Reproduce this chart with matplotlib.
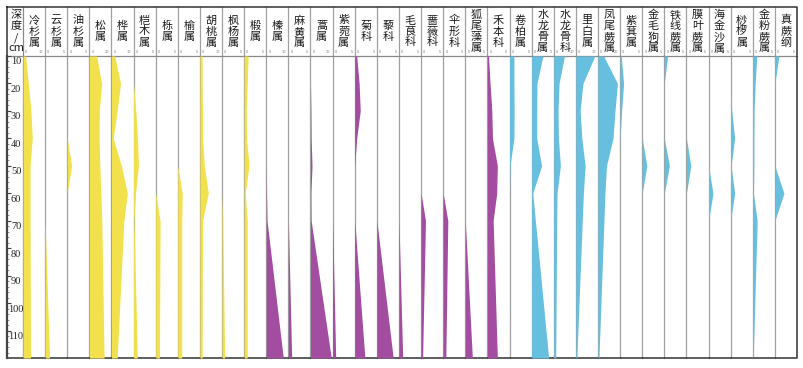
import matplotlib
matplotlib.use('Agg')
import matplotlib.pyplot as plt
import matplotlib.transforms as mtransforms

W, H = 804, 368
fig = plt.figure(figsize=(W / 100, H / 100), dpi=100)

# ---------------- data ----------------
depths = [10, 20, 30, 40, 50, 60, 70, 120]
depth_ticks = [10, 20, 30, 40, 50, 60, 70, 80, 90, 100, 110]

tree_taxa = ['冷杉属', '云杉属', '油杉属', '松属', '桦属', '桤木属', '栎属', '榆属',
             '胡桃属', '枫杨属', '椴属']
tree_scales = [10, 5, 5, 20, 10, 5, 5, 5, 10, 5, 5]
tree_values = [
    [1.2, 2.4, 3.6, 4.2, 3.2, 3.2, 3.2, 3.4],     # 冷杉属
    [0, 0, 0, 0, 0, 0, 0, 1.0],                   # 云杉属
    [0, 0, 0, 0, 1.0, 0, 0, 0],                   # 油杉属
    [6.6, 11.1, 9.0, 8.8, 9.5, 10.4, 11.3, 13.3], # 松属
    [1.5, 4.1, 2.6, 0.8, 4.5, 7.2, 5.6, 2.6],     # 桦属
    [0, 0, 0.5, 0.9, 1.1, 0.45, 0.1, 0.85],       # 桤木属
    [0, 0, 0, 0, 0, 0, 1.0, 0.85],                # 栎属
    [0, 0, 0, 0, 0, 1.0, 0.9, 0.9],               # 榆属
    [1.0, 1.0, 1.2, 1.2, 2.0, 3.8, 1.2, 1.0],     # 胡桃属
    [0, 0, 0, 0, 0, 0, 0.15, 0.6],                # 枫杨属
    [0.9, 0.7, 0.5, 0.55, 1.1, 0.25, 0.7, 0.7],   # 椴属
]

herb_taxa = ['榛属', '麻黄属', '蒿属', '紫菀属', '菊科', '藜科', '毛茛科', '蔷薇科',
             '伞形科', '狐尾藻属', '禾本科']
herb_scales = [10, 5, 10, 5, 5, 5, 5, 5, 5, 5, 5]
herb_values = [
    [0, 0, 0, 0, 0, 0.15, 0.35, 7.7],             # 榛属
    [0, 0, 0, 0, 0, 0, 0, 0.75],                  # 麻黄属
    [0, 0, 0.2, 0.3, 0.7, 0.2, 0.3, 9.4],         # 蒿属
    [0, 0, 0, 0, 0, 0, 0, 0.7],                   # 紫菀属
    [0.45, 1.0, 1.25, 0.45, 0, 0, 0, 2.3],        # 菊科
    [0, 0, 0, 0, 0, 0, 0, 3.7],                   # 藜科
    [0, 0, 0, 0, 0, 0, 0, 0.85],                  # 毛茛科
    [0, 0, 0, 0, 0, 0, 1.0, 0.35],                # 蔷薇科
    [0, 0, 0, 0, 0, 0, 1.05, 0.6],                # 伞形科
    [0, 0, 0, 0, 0, 0, 0, 1.6],                   # 狐尾藻属
    [0.25, 0.6, 1.0, 1.15, 2.25, 2.1, 1.3, 2.25], # 禾本科
]

fern_taxa = ['卷柏属', '水龙骨属', '水龙骨科', '里白属', '凤尾蕨属', '紫萁属', '金毛狗属',
             '铁线蕨属', '膜叶蕨属', '海金沙属', '桫椤属', '金粉蕨属', '真蕨纲']
fern_scales = [5, 5, 10, 10, 20, 5, 5, 5, 5, 5, 5, 5, 5]
fern_values = [
    [1.0, 1.0, 1.05, 1.0, 0.1, 0, 0, 0],          # 卷柏属
    [2.55, 1.2, 1.15, 1.15, 2.25, 0.25, 0.85, 3.85],  # 水龙骨属
    [4.85, 2.4, 1.95, 2.1, 3.0, 1.5, 1.35, 0.9],  # 水龙骨科
    [8.6, 3.2, 1.95, 2.7, 4.2, 3.4, 2.9, 0.45],   # 里白属
    [5.2, 17.6, 15.4, 13.6, 7.7, 6.3, 5.4, 0.9],  # 凤尾蕨属
    [0.25, 0.8, 0.35, 0, 0, 0, 0, 0],             # 紫萁属
    [0, 0, 0, 0, 1.05, 0, 0, 0],                  # 金毛狗属
    [0.75, 0, 0, 0, 1.15, 0, 0, 0],               # 铁线蕨属
    [0, 0, 0, 0, 1.0, 0, 0, 0],                   # 膜叶蕨属
    [0, 0, 0, 0, 0, 1.0, 0, 0],                   # 海金沙属
    [0, 0, 0.25, 0.9, 0.1, 0.9, 0, 0],            # 桫椤属
    [0.9, 0.55, 0.3, 0.25, 0.25, 0.15, 1.0, 0.1], # 金粉蕨属
    [0.9, 0, 0, 0, 0, 2.05, 0, 0],                # 真蕨纲
]

colors = {'tree': '#F2E14C', 'herb': '#A24D9F', 'fern': '#67BFE0'}

columns = ([(t, s, v, colors['tree']) for t, s, v in zip(tree_taxa, tree_scales, tree_values)] +
           [(t, s, v, colors['herb']) for t, s, v in zip(herb_taxa, herb_scales, herb_values)] +
           [(t, s, v, colors['fern']) for t, s, v in zip(fern_taxa, fern_scales, fern_values)])

# ---------------- layout ----------------
cjk = ['Noto Sans CJK SC', 'DejaVu Sans']
num_font = 'Liberation Serif'

x_left, x0, x1 = 7.0, 23.0, 797.0
y_frame_top, ytop, ybot = 7.0, 56.0, 358.0
n = len(columns)
colw = (x1 - x0) / n

def fx(px):
    return px / W

def fy(py):
    return 1 - py / H

# background axes in pixel coordinates for frame & separators
bg = fig.add_axes([0, 0, 1, 1])
bg.set_xlim(0, W)
bg.set_ylim(H, 0)
bg.axis('off')
sep_color = '#a0a0a0'
for i in range(1, n):
    xx = x0 + i * colw
    bg.plot([xx, xx], [y_frame_top, ybot], color=sep_color, lw=0.9, zorder=1)
bg.plot([x0, x0], [y_frame_top, ybot], color='#888888', lw=0.9, zorder=1)
bg.plot([x_left, x1], [ytop, ytop], color='#888888', lw=0.9, zorder=1)
bg.plot([x_left, x1, x1, x_left, x_left],
        [y_frame_top, y_frame_top, ybot, ybot, y_frame_top],
        color='#333333', lw=1.1, zorder=5)

# header labels
header_y = 31.5
bg.text((x_left + x0) / 2 + 1, header_y, '深\n度\n/\ncm', ha='center', va='center',
        fontsize=8, family=cjk, linespacing=1.12, color='#1a1a1a')
for i, (name, scale, vals, c) in enumerate(columns):
    cx = x0 + (i + 0.5) * colw
    bg.text(cx, header_y, '\n'.join(name), ha='center', va='center',
            fontsize=8, family=cjk, linespacing=1.12, color='#1a1a1a')

# data columns
for i, (name, scale, vals, c) in enumerate(columns):
    ax = fig.add_axes([fx(x0 + i * colw), fy(ybot), colw / W, (ybot - ytop) / H])
    ax.set_xlim(0, scale)
    ax.set_ylim(120, 10)
    ax.fill_betweenx(depths, 0, vals, color=c, lw=0)
    ax.axis('off')
    ax.patch.set_alpha(0)
    ax.annotate('0', xy=(0, 1), xycoords=('data', 'axes fraction'),
                xytext=(1.5, 1.5), textcoords='offset points', fontsize=2.5,
                color='#777777', ha='left', va='bottom', annotation_clip=False)
    ax.annotate(str(scale), xy=(scale, 1), xycoords=('data', 'axes fraction'),
                xytext=(-1.5, 1.5), textcoords='offset points', fontsize=2.5,
                color='#777777', ha='right', va='bottom', annotation_clip=False)

# depth axis
dax = fig.add_axes([fx(x_left), fy(ybot), (x0 - x_left) / W, (ybot - ytop) / H])
dax.set_ylim(120, 10)
dax.set_xlim(0, 1)
dax.patch.set_alpha(0)
for s in ['top', 'right', 'bottom']:
    dax.spines[s].set_visible(False)
dax.spines['left'].set_color('#444444')
dax.spines['left'].set_linewidth(1.6)
dax.set_xticks([])
dax.set_yticks(depth_ticks)
dax.set_yticks(list(range(12, 120, 2)), minor=True)
dax.tick_params(axis='y', which='major', direction='in', length=3, width=0.8,
                color='#444444', pad=-6.5, labelsize=7.5, labelcolor='#222222')
dax.tick_params(axis='y', which='minor', direction='in', length=1.5, width=0.5,
                color='#666666')
offset = mtransforms.ScaledTranslation(0, -5 / 100, fig.dpi_scale_trans)
for lab in dax.get_yticklabels():
    lab.set_ha('center')
    lab.set_family(num_font)
    lab.set_transform(lab.get_transform() + offset)

fig.savefig('out.png', dpi=100)
